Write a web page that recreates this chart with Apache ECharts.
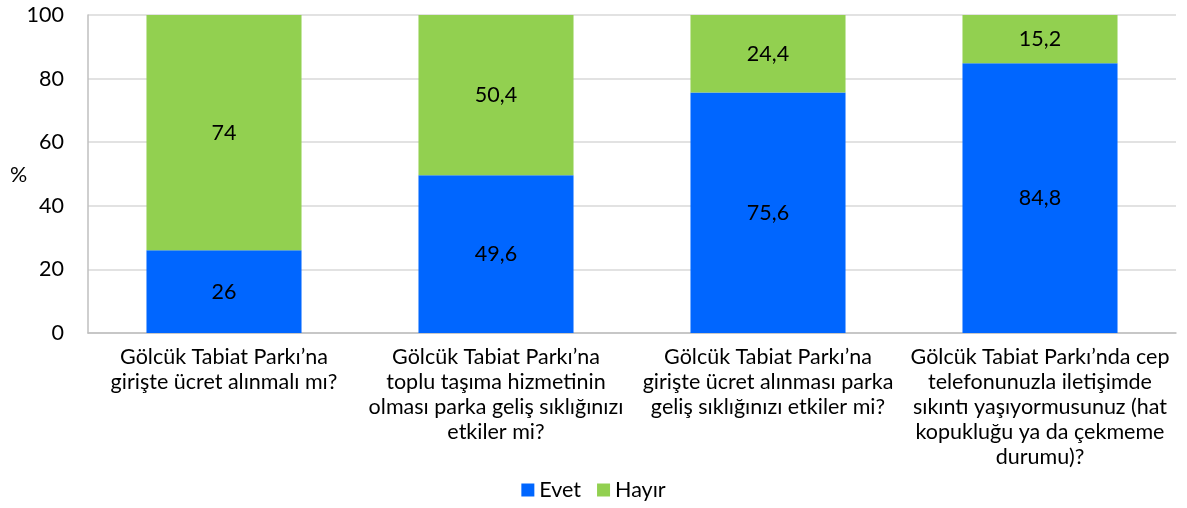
<!DOCTYPE html>
<html>
<head>
<meta charset="utf-8">
<script src="https://cdn.jsdelivr.net/npm/echarts@6/dist/echarts.min.js"></script>
<style>html,body{margin:0;padding:0;background:#fff;}#c{width:1187px;height:508px;}</style>
</head>
<body>
<div id="c"></div>
<script>
const categories = [
  "Gölcük Tabiat Parkı’na\ngirişte ücret alınmalı mı?",
  "Gölcük Tabiat Parkı’na\ntoplu taşıma hizmetinin\nolması parka geliş sıklığınızı\netkiler mi?",
  "Gölcük Tabiat Parkı’na\ngirişte ücret alınması parka\ngeliş sıklığınızı etkiler mi?",
  "Gölcük Tabiat Parkı’nda cep\ntelefonunuzla iletişimde\nsıkıntı yaşıyormusunuz (hat\nkopukluğu ya da çekmeme\ndurumu)?"
];
const evet = [26, 49.6, 75.6, 84.8];
const hayir = [74, 50.4, 24.4, 15.2];
const seriesNames = ["Evet", "Hayır"];
const yTicks = [0, 20, 40, 60, 80, 100];

const font = "Lato, 'Open Sans', sans-serif";
const fs = 21.5;
const fmt = p => String(p.value).replace('.', ',');
const chart = echarts.init(document.getElementById('c'), null, {renderer: 'canvas'});
chart.setOption({
  animation: false,
  textStyle: {fontFamily: font},
  grid: {left: 88, right: 11, top: 15, bottom: 175},
  legend: {
    bottom: 2, left: 'center', itemWidth: 13, itemHeight: 13, itemGap: 16,
    icon: 'rect',
    textStyle: {fontSize: fs, color: '#000', fontFamily: font},
    data: seriesNames
  },
  graphic: [{type: 'text', left: 10, top: 164, style: {text: '%', fontSize: fs, fill: '#000', fontFamily: font}}],
  xAxis: {
    type: 'category', data: categories,
    axisLine: {lineStyle: {color: '#bfbfbf', width: 1.5}},
    axisTick: {show: false},
    axisLabel: {interval: 0, color: '#000', fontSize: fs, lineHeight: 25, margin: 12, fontFamily: font}
  },
  yAxis: {
    type: 'value', min: 0, max: 100, interval: 20,
    axisLine: {show: true, lineStyle: {color: '#bfbfbf', width: 1.5}},
    axisTick: {show: false},
    splitLine: {lineStyle: {color: '#d9d9d9', width: 1.5}},
    axisLabel: {color: '#000', fontSize: fs, margin: 24, fontFamily: font,
      formatter: v => yTicks.includes(v) ? String(v) : ''}
  },
  series: [
    {name: seriesNames[0], type: 'bar', stack: 's', data: evet, barWidth: '57%',
     itemStyle: {color: '#0066FF'},
     label: {show: true, position: 'inside', color: '#000', fontSize: fs, fontFamily: font, formatter: fmt}},
    {name: seriesNames[1], type: 'bar', stack: 's', data: hayir, barWidth: '57%',
     itemStyle: {color: '#92D050'},
     label: {show: true, position: 'inside', color: '#000', fontSize: fs, fontFamily: font, formatter: fmt}}
  ]
});
</script>
</body>
</html>
